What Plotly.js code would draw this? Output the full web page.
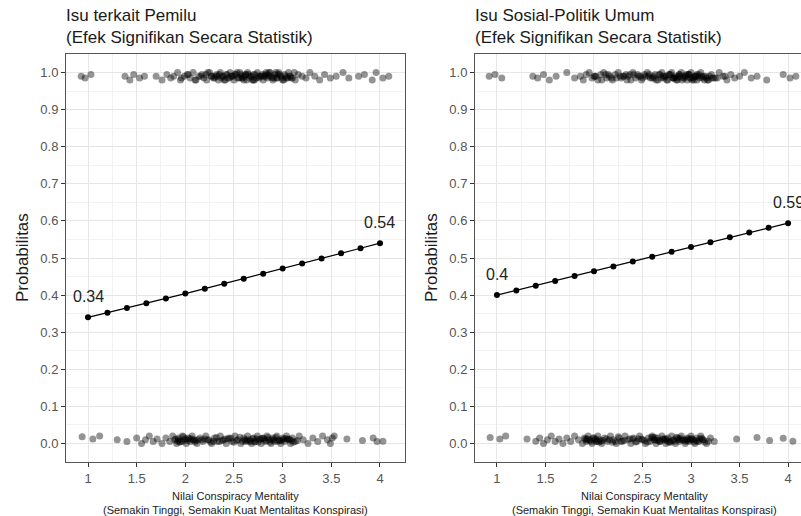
<!DOCTYPE html>
<html>
<head>
<meta charset="utf-8">
<script src="https://cdn.plot.ly/plotly-3.0.1.min.js"></script>
<style>
html,body{margin:0;padding:0;overflow:hidden;background:#fff;width:801px;height:516px;}
#plot{width:830px;height:516px;}
</style>
</head>
<body>
<div id="plot"></div>
<script>
// ---------- data ----------
const panelTitles = ["Isu terkait Pemilu<br>(Efek Signifikan Secara Statistik)",
                     "Isu Sosial-Politik Umum<br>(Efek Signifikan Secara Statistik)"];
const yTitle = "Probabilitas";
const xTitle = "Nilai Conspiracy Mentality<br>(Semakin Tinggi, Semakin Kuat Mentalitas Konspirasi)";

const xTickVals = [1, 1.5, 2, 2.5, 3, 3.5, 4];
const xTickText = ["1", "1.5", "2", "2.5", "3", "3.5", "4"];
const yTickVals = [0, 0.1, 0.2, 0.3, 0.4, 0.5, 0.6, 0.7, 0.8, 0.9, 1.0];
const yTickText = ["0.0", "0.1", "0.2", "0.3", "0.4", "0.5", "0.6", "0.7", "0.8", "0.9", "1.0"];

// predicted probability curves
const cmGrid = [1.0, 1.2, 1.4, 1.6, 1.8, 2.0, 2.2, 2.4, 2.6, 2.8, 3.0, 3.2, 3.4, 3.6, 3.8, 4.0];
const probPemilu = [0.340, 0.3525, 0.3652, 0.378, 0.391, 0.404, 0.4173, 0.4307, 0.4442, 0.4578,
                    0.4715, 0.4852, 0.4988, 0.5125, 0.5262, 0.540];
const probSosial = [0.400, 0.4127, 0.4255, 0.4383, 0.4514, 0.4643, 0.4773, 0.4905, 0.5035, 0.5167,
                    0.5297, 0.5427, 0.5558, 0.5686, 0.5815, 0.594];
const labelsPemilu = ["0.34", "0.54"];
const labelsSosial = ["0.4", "0.59"];

// jittered raw observations, left panel, outcome = 1
const leftTopX = [0.93,0.97,1.03,1.38,1.43,1.47,1.53,1.58,1.70,1.76,
 1.81,1.85,1.88,1.92,1.95,1.99,2.02,2.05,2.08,2.11,
 2.14,2.17,2.19,2.22,2.25,2.27,2.30,2.32,2.34,2.36,
 2.38,2.40,2.42,2.44,2.46,2.48,2.50,2.52,2.54,2.56,
 2.58,2.60,2.62,2.64,2.66,2.68,2.70,2.72,2.74,2.76,
 2.78,2.80,2.82,2.84,2.86,2.88,2.90,2.92,2.94,2.96,
 2.98,3.00,3.02,3.04,3.06,3.08,3.10,3.13,3.16,3.20,
 3.24,3.28,3.33,3.38,3.43,3.49,3.55,3.62,3.68,3.78,
 3.84,3.92,3.96,4.03,4.09,1.96,2.03,2.10,2.16,2.23,
 2.29,2.35,2.41,2.47,2.53,2.59,2.65,2.71,2.77,2.83,
 2.89,2.95,3.01,3.07,3.12,2.31,2.45,2.57,2.69,2.81,
 2.93,3.05,2.39,2.51,2.63,2.75,2.87,2.99,2.61,2.85,
 2.33,2.37,2.43,2.49,2.55,2.62,2.67,2.73,2.79,2.86,
 2.91,2.97,3.03,3.09,2.21,2.27,2.58,2.70,2.82,2.94];
const leftTopY = [0.99,0.985,0.995,0.99,0.98,0.995,0.985,0.99,0.99,0.98,
 0.995,0.985,0.99,1.0,0.98,0.99,0.995,0.985,1.0,0.98,
 0.99,0.995,0.985,0.98,1.0,0.99,0.985,0.995,0.98,1.0,
 0.99,0.98,0.995,0.985,1.0,0.99,0.98,0.995,0.985,1.0,
 0.99,0.98,0.995,1.0,0.985,0.99,0.98,0.995,1.0,0.985,
 0.99,0.98,0.995,0.985,1.0,0.99,0.98,0.995,0.985,1.0,
 0.99,0.98,0.995,0.985,1.0,0.99,0.985,0.98,0.995,0.99,
 0.985,1.0,0.99,0.98,0.995,0.985,0.99,1.0,0.985,0.99,
 0.995,0.98,1.0,0.985,0.99,0.985,0.995,0.98,0.99,1.0,
 0.985,0.995,0.98,0.99,1.0,0.985,0.995,0.98,0.99,1.0,
 0.985,0.995,0.98,0.99,1.0,0.99,0.985,0.995,0.98,0.99,
 1.0,0.985,0.99,0.995,0.98,0.99,1.0,0.985,0.99,0.995,
 0.99,0.985,0.995,0.99,0.985,0.995,0.99,0.985,0.995,0.99,
 0.985,0.995,0.99,0.985,0.995,0.99,0.985,0.995,0.99,0.985];

// left panel, outcome = 0
const leftBotX = [0.94,1.05,1.12,1.30,1.40,1.50,1.55,1.59,1.63,1.67,
 1.71,1.76,1.80,1.84,1.87,1.89,1.91,1.93,1.95,1.97,
 1.99,2.01,2.03,2.05,2.07,2.09,2.12,2.15,2.18,2.21,
 2.24,2.27,2.30,2.33,2.36,2.39,2.42,2.45,2.48,2.51,
 2.54,2.57,2.60,2.62,2.64,2.66,2.68,2.70,2.72,2.74,
 2.76,2.78,2.80,2.82,2.84,2.86,2.88,2.90,2.92,2.94,
 2.96,2.98,3.00,3.02,3.04,3.06,3.08,3.10,3.13,3.17,
 3.21,3.26,3.31,3.36,3.41,3.46,3.49,3.51,3.53,3.66,
 3.82,3.93,3.97,4.03,1.90,1.94,1.98,2.02,2.06,2.10,
 2.20,2.26,2.32,2.38,2.44,2.50,2.56,2.63,2.69,2.75,
 2.81,2.87,2.93,2.99,3.05,3.11,2.65,2.79,2.91,3.03,
 1.92,2.00,2.08,2.71,2.85,2.97,3.07,2.23,2.47,2.59,
 1.93,1.97,2.04,2.11,2.17,2.29,2.41,2.53,2.61,2.67,
 2.73,2.83,2.89,2.95,3.01,3.09,2.13,2.35,2.77,3.15];
const leftBotY = [0.018,0.012,0.02,0.01,0.005,0.015,0.0,0.01,0.02,0.005,
 0.012,0.0,0.015,0.005,0.02,0.01,0.0,0.015,0.005,0.02,
 0.01,0.0,0.015,0.005,0.02,0.01,0.0,0.015,0.005,0.02,
 0.01,0.0,0.015,0.005,0.02,0.01,0.0,0.015,0.005,0.02,
 0.01,0.0,0.015,0.005,0.02,0.01,0.0,0.015,0.005,0.02,
 0.01,0.0,0.015,0.005,0.02,0.01,0.0,0.015,0.005,0.02,
 0.01,0.0,0.015,0.005,0.02,0.01,0.0,0.015,0.005,0.02,
 0.01,0.0,0.015,0.005,0.02,0.01,0.0,0.015,0.02,0.012,
 0.008,0.015,0.005,0.006,0.012,0.003,0.018,0.008,0.013,0.004,
 0.012,0.004,0.016,0.008,0.012,0.003,0.017,0.009,0.013,0.004,
 0.012,0.004,0.016,0.008,0.012,0.003,0.006,0.014,0.009,0.013,
 0.006,0.013,0.009,0.004,0.016,0.007,0.011,0.009,0.014,0.006,
 0.01,0.005,0.012,0.008,0.01,0.006,0.012,0.008,0.01,0.005,
 0.012,0.008,0.01,0.006,0.012,0.008,0.01,0.005,0.012,0.008];

// right panel, outcome = 1
const rightTopX = [0.92,0.98,1.05,1.37,1.42,1.48,1.54,1.61,1.72,1.80,
 1.86,1.89,1.92,1.95,1.98,2.01,2.04,2.07,2.10,2.13,
 2.16,2.19,2.22,2.25,2.28,2.31,2.34,2.37,2.40,2.43,
 2.46,2.49,2.52,2.55,2.58,2.61,2.64,2.67,2.70,2.72,
 2.74,2.76,2.78,2.80,2.82,2.84,2.86,2.88,2.90,2.92,
 2.94,2.96,2.98,3.00,3.02,3.04,3.06,3.08,3.10,3.12,
 3.15,3.18,3.21,3.25,3.29,3.33,3.37,3.41,3.45,3.50,
 3.55,3.62,3.68,3.78,3.95,4.02,4.08,2.00,2.08,2.15,
 2.23,2.30,2.38,2.45,2.53,2.60,2.66,2.71,2.77,2.81,
 2.85,2.89,2.93,2.97,3.01,3.05,3.09,3.14,3.19,2.79,
 2.83,2.87,2.91,2.95,2.99,3.03,3.07,2.63,2.69,2.75,
 2.35,2.50,2.57,3.11,3.17,3.23,2.27,2.12,3.27,3.35,
 2.02,2.18,2.33,2.48,2.62,2.68,2.73,2.82,2.88,2.94,
 3.00,3.06,3.13,3.21,2.41,2.56,2.86,2.98,3.04,3.16];
const rightTopY = [0.99,0.995,0.985,0.99,0.985,0.995,0.98,0.99,1.0,0.985,
 0.99,0.98,0.995,1.0,0.985,0.99,0.98,0.995,1.0,0.985,
 0.99,0.98,0.995,1.0,0.985,0.99,0.98,0.995,1.0,0.985,
 0.99,0.98,0.995,1.0,0.985,0.99,0.98,0.995,1.0,0.985,
 0.99,0.98,0.995,1.0,0.985,0.99,0.98,0.995,1.0,0.985,
 0.99,0.98,0.995,1.0,0.985,0.99,0.98,0.995,1.0,0.985,
 0.99,0.98,0.995,0.985,1.0,0.99,0.98,0.995,0.985,0.99,
 1.0,0.985,0.99,0.98,0.995,0.985,0.99,0.99,0.98,0.995,
 0.985,0.99,0.98,0.995,0.99,0.985,0.98,0.99,0.995,0.985,
 0.98,0.99,0.985,0.995,0.98,0.99,0.985,0.98,0.99,0.995,
 0.985,0.99,0.98,0.995,0.985,0.98,0.99,0.995,0.985,0.98,
 0.99,0.985,0.995,0.99,0.98,0.985,0.99,0.995,0.985,0.99,
 0.99,0.985,0.995,0.99,0.985,0.995,0.99,0.985,0.995,0.99,
 0.985,0.995,0.99,0.985,0.995,0.99,0.985,0.995,0.99,0.985];

// right panel, outcome = 0
const rightBotX = [0.93,1.03,1.09,1.31,1.40,1.44,1.48,1.52,1.56,1.60,
 1.64,1.68,1.72,1.76,1.80,1.84,1.88,1.90,1.92,1.94,
 1.96,1.98,2.00,2.02,2.04,2.06,2.08,2.11,2.14,2.17,
 2.20,2.23,2.26,2.29,2.32,2.35,2.38,2.41,2.44,2.47,
 2.50,2.53,2.56,2.58,2.60,2.62,2.64,2.66,2.68,2.70,
 2.72,2.74,2.76,2.78,2.80,2.82,2.84,2.86,2.88,2.90,
 2.92,2.94,2.96,2.98,3.00,3.02,3.04,3.06,3.08,3.10,
 3.13,3.16,3.20,3.24,3.47,3.68,3.81,3.95,4.05,1.91,
 1.95,1.99,2.03,2.07,2.13,2.19,2.25,2.31,2.37,2.43,
 2.49,2.55,2.61,2.67,2.73,2.79,2.85,2.91,2.97,3.03,
 3.09,3.14,2.59,2.65,2.71,2.77,2.83,2.89,2.95,3.01,
 3.07,1.93,2.01,2.05,2.63,2.75,2.87,2.99,3.11,3.18,
 1.92,1.97,2.02,2.09,2.16,2.28,2.40,2.52,2.62,2.68,
 2.74,2.81,2.88,2.94,3.00,3.05,3.12,2.22,2.46,2.96];
const rightBotY = [0.016,0.012,0.02,0.012,0.006,0.015,0.0,0.01,0.02,0.005,
 0.012,0.0,0.015,0.005,0.02,0.01,0.0,0.015,0.005,0.02,
 0.01,0.0,0.015,0.005,0.02,0.01,0.0,0.015,0.005,0.02,
 0.01,0.0,0.015,0.005,0.02,0.01,0.0,0.015,0.005,0.02,
 0.01,0.0,0.015,0.005,0.02,0.01,0.0,0.015,0.005,0.02,
 0.01,0.0,0.015,0.005,0.02,0.01,0.0,0.015,0.005,0.02,
 0.01,0.0,0.015,0.005,0.02,0.01,0.0,0.015,0.005,0.02,
 0.01,0.0,0.015,0.005,0.012,0.016,0.008,0.014,0.006,0.012,
 0.008,0.015,0.005,0.006,0.012,0.003,0.018,0.008,0.013,0.004,
 0.012,0.004,0.016,0.008,0.012,0.003,0.017,0.009,0.013,0.004,
 0.012,0.004,0.016,0.008,0.012,0.003,0.006,0.014,0.009,0.013,
 0.006,0.013,0.009,0.004,0.016,0.007,0.011,0.009,0.014,0.006,
 0.01,0.005,0.012,0.008,0.01,0.006,0.012,0.008,0.01,0.005,
 0.012,0.008,0.01,0.006,0.012,0.008,0.01,0.005,0.012,0.008];

// ---------- drawing ----------
const FONT = "Liberation Sans, Arial, Helvetica, sans-serif";
const W = 830, H = 516;
const px = v => v / W;
const py = v => 1 - v / H;

function dots(x, y, xa, ya) {
  return {type: "scatter", mode: "markers", x: x, y: y, xaxis: xa, yaxis: ya,
    marker: {color: "rgba(0,0,0,0.42)", size: 7, line: {width: 0}},
    hoverinfo: "skip", showlegend: false};
}
function curve(x, y, xa, ya) {
  return {type: "scatter", mode: "lines+markers", x: x, y: y, xaxis: xa, yaxis: ya,
    line: {color: "#000", width: 1.2}, marker: {color: "#000", size: 6},
    showlegend: false};
}

const data = [
  dots(leftTopX, leftTopY, "x", "y"),
  dots(leftBotX, leftBotY, "x", "y"),
  dots(rightTopX, rightTopY, "x2", "y2"),
  dots(rightBotX, rightBotY, "x2", "y2"),
  curve(cmGrid, probPemilu, "x", "y"),
  curve(cmGrid, probSosial, "x2", "y2")
];

function xAxis(domain, anchor) {
  return {domain: domain, anchor: anchor, range: [0.774, 4.257],
    tickmode: "array", tickvals: xTickVals, ticktext: xTickText,
    ticks: "outside", ticklen: 4, tickwidth: 1, tickcolor: "#333",
    tickfont: {family: FONT, size: 13, color: "#555"},
    showgrid: true, gridcolor: "#e6e6e6", gridwidth: 1,
    minor: {tickmode: "array", tickvals: [1.25, 1.75, 2.25, 2.75, 3.25, 3.75],
            showgrid: true, gridcolor: "#f2f2f2", gridwidth: 1, ticks: ""},
    zeroline: false, showline: true, mirror: true, linecolor: "#555", linewidth: 1};
}
function yAxis(domain, anchor) {
  return {domain: domain, anchor: anchor, range: [-0.05, 1.05],
    tickmode: "array", tickvals: yTickVals, ticktext: yTickText,
    ticks: "outside", ticklen: 4, tickwidth: 1, tickcolor: "#333",
    tickfont: {family: FONT, size: 13, color: "#555"},
    showgrid: true, gridcolor: "#e6e6e6", gridwidth: 1,
    minor: {tickmode: "array", tickvals: [0.05, 0.15, 0.25, 0.35, 0.45, 0.55, 0.65, 0.75, 0.85, 0.95],
            showgrid: true, gridcolor: "#f2f2f2", gridwidth: 1, ticks: ""},
    zeroline: false, showline: true, mirror: true, linecolor: "#555", linewidth: 1};
}

const yDom = [1 - 462 / H, 1 - 54 / H];
const layout = {
  width: W, height: H,
  margin: {l: 0, r: 0, t: 0, b: 0},
  paper_bgcolor: "#fff", plot_bgcolor: "#fff",
  showlegend: false,
  font: {family: FONT, color: "#000"},
  xaxis: xAxis([px(66), px(405)], "y"),
  yaxis: yAxis(yDom, "x"),
  xaxis2: xAxis([px(475), px(813)], "y2"),
  yaxis2: yAxis(yDom, "x2"),
  annotations: []
};

const panels = [
  {xa: "x", ya: "y", left: 66, title: panelTitles[0], xs: cmGrid, ys: probPemilu, labels: labelsPemilu},
  {xa: "x2", ya: "y2", left: 475, title: panelTitles[1], xs: cmGrid, ys: probSosial, labels: labelsSosial}
];
panels.forEach(p => {
  const dom = p.xa === "x" ? "x domain" : "x2 domain";
  layout.annotations.push({
    text: p.title, xref: "paper", yref: "paper", x: px(p.left - 2), y: py(4),
    xanchor: "left", yanchor: "top", align: "left", showarrow: false,
    font: {family: FONT, size: 17, color: "#1a1a1a"}
  });
  layout.annotations.push({
    text: yTitle, xref: "paper", yref: "paper", x: px(p.left - 44), y: py(258),
    xanchor: "center", yanchor: "middle", textangle: -90, showarrow: false,
    font: {family: FONT, size: 17, color: "#1a1a1a"}
  });
  layout.annotations.push({
    text: xTitle, xref: dom, yref: "paper", x: 0.5, y: py(488),
    xanchor: "center", yanchor: "top", align: "center", showarrow: false,
    font: {family: FONT, size: 11, color: "#1a1a1a"}
  });
  const idx = [0, p.xs.length - 1];
  idx.forEach((k, j) => {
    layout.annotations.push({
      text: p.labels[j], xref: p.xa, yref: p.ya, x: p.xs[k], y: p.ys[k],
      xanchor: "center", yanchor: "bottom", yshift: 10, showarrow: false,
      font: {family: FONT, size: 16, color: "#222"}
    });
  });
});

Plotly.newPlot("plot", data, layout, {displayModeBar: false, staticPlot: true});
</script>
</body>
</html>
